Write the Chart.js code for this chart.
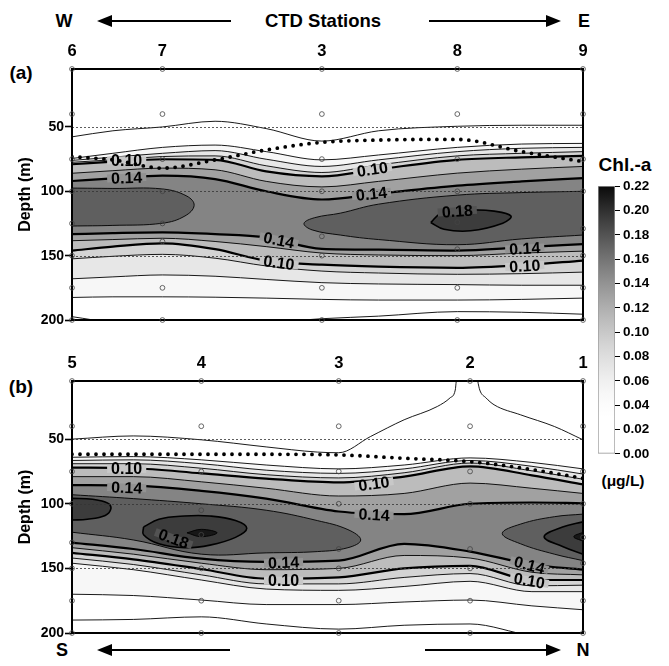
<!DOCTYPE html>
<html>
<head>
<meta charset="utf-8">
<script src="https://cdn.jsdelivr.net/npm/chart.js@4.4.1/dist/chart.umd.min.js"></script>
<style>
  body { margin: 0; width: 669px; height: 666px; position: relative; overflow: hidden; background: #fff;
         font-family: "Liberation Sans", Arial, Helvetica, sans-serif; font-weight: bold; color: #000; }
  canvas { position: absolute; display: block; }
  .txt { position: absolute; white-space: nowrap; transform: translate(-50%, -50%); font-weight: bold; }
  .shaft { position: absolute; height: 2px; background: #000; }
  .headL { position: absolute; width: 0; height: 0; border-top: 6px solid transparent; border-bottom: 6px solid transparent; border-right: 15px solid #000; }
  .headR { position: absolute; width: 0; height: 0; border-top: 6px solid transparent; border-bottom: 6px solid transparent; border-left: 15px solid #000; }
</style>
</head>
<body>

<div class="txt" style="left:64px;top:21px;font-size:18px">W</div>
<div class="headL" style="left:97px;top:15px"></div>
<div class="shaft" style="left:108px;top:20px;width:123px"></div>
<div class="txt" style="left:323px;top:21px;font-size:18.5px">CTD Stations</div>
<div class="shaft" style="left:429px;top:20px;width:120px"></div>
<div class="headR" style="left:546px;top:15px"></div>
<div class="txt" style="left:584px;top:21px;font-size:18px">E</div>

<div class="txt" style="left:21px;top:73px;font-size:19px">(a)</div>
<div class="txt" style="left:21px;top:387px;font-size:19px">(b)</div>

<div class="txt" style="left:625px;top:165px;font-size:19px">Chl.-a</div>
<div class="txt" style="left:623px;top:481px;font-size:15.5px">(μg/L)</div>

<div class="txt" style="left:62px;top:650px;font-size:18px">S</div>
<div class="headL" style="left:97px;top:644px"></div>
<div class="shaft" style="left:108px;top:649px;width:122px"></div>
<div class="shaft" style="left:425px;top:649px;width:122px"></div>
<div class="headR" style="left:546px;top:644px"></div>
<div class="txt" style="left:583px;top:650px;font-size:18px">N</div>

<canvas id="chartA" width="600" height="290" style="left:0;top:40px"></canvas>
<canvas id="chartB" width="600" height="291" style="left:0;top:352px"></canvas>
<canvas id="colorbar" width="81" height="290" style="left:588px;top:175px"></canvas>

<script>
// ---- axes / ticks ----
const depthTicks = [50, 100, 150, 200];
const depthGrid = [50, 100, 150];
const barTicks = [0, 0.02, 0.04, 0.06, 0.08, 0.10, 0.12, 0.14, 0.16, 0.18, 0.20, 0.22];
const boldLevels = [0.10, 0.14, 0.18];

// ---- panel (a): W -> E ----
const stationsA = ['6', '7', '3', '8', '9'];
const stationXA = [0, 17.7, 48.9, 75.4, 100];
const samplesA = [
  [5, 40, 75, 100, 125, 150, 175, 200],
  [5, 40, 75, 100, 125, 139, 175, 200],
  [5, 40, 75, 100, 135, 150, 175, 200],
  [5, 40, 75, 100, 124, 145, 175, 200],
  [5, 40, 75, 100, 129, 150, 175, 200]
];
const gridA = [0, 8, 17.7, 28, 38, 48.9, 60, 75.4, 88, 100];
const mldA  = [73.1, 75.6, 82.0, 75.6, 67.9, 62.0, 60.2, 59.7, 69.2, 76.9];
// contour depths (m) above the chl-a maximum
const aUp02 = [57.7, 53, 50, 45.6, 51.3, 61, 53, 49.5, 48.7, 48.7];
const aUp04 = [74.5, 70.5, 65.9, 64.1, 69.2, 75.6, 71.8, 65.9, 63.3, 62.8];
const aUp06 = [76, 73.5, 70.5, 68.4, 75.1, 80.7, 75.6, 69.2, 66.6, 65.9];
const aUp08 = [77.5, 75.5, 73, 72.5, 80.2, 85.4, 79.5, 72.5, 70.5, 69.2];
const aUp10 = [79, 77, 75.1, 75.6, 84.6, 88.4, 82.8, 75.6, 73.6, 72.5];
const aUp12 = [86, 84, 82, 83.3, 92.3, 96.6, 92.3, 85.9, 82.8, 80.7];
const aUp14 = [92, 90, 87.9, 90.5, 100, 106.4, 101.8, 95.6, 92.3, 89.7];
// contour depths (m) below the maximum
const aLo14 = [133.3, 132.5, 132, 133.3, 135.9, 144.8, 145.4, 146.1, 143.6, 141];
const aLo12 = [138.4, 137.5, 136.5, 139, 143, 148, 149.5, 150, 148, 146.5];
const aLo10 = [146.1, 143, 140.5, 145, 154, 157, 158.6, 159.5, 157.5, 153.8];
const aLo08 = [152.5, 150.5, 149, 152, 158, 162, 163.5, 164.5, 164, 162.8];
const aLo06 = [168, 166.5, 165, 166, 168.5, 171, 172, 172.5, 173, 173];
const aLo04 = [182.5, 182, 182, 182.3, 183, 184, 184.5, 184.5, 184, 183];
const aLo02 = [197.4, 202, 204, 204, 202, 199, 197, 193.5, 194, 195.5];
// closed contours [x, depth]
const aWest16 = [[0, 97.5], [8, 97.8], [17.7, 98.2], [22.5, 103.8], [23.9, 111], [22.1, 119.2], [17.7, 124.8], [8, 126.5], [0, 127]];
const aEast16 = [[100, 100], [88, 101], [75.4, 103], [60, 110], [52.5, 117], [47.5, 120.5], [45.4, 125], [47, 130], [52.5, 134], [60, 137.5], [75.4, 141.5], [88, 137], [100, 134]];
const aEast18 = [[70.2, 124.3], [72.2, 117.2], [78, 114.6], [82.6, 115.4], [85.9, 119.2], [84.3, 124.8], [78, 130.7], [72.8, 129.5], [70.2, 124.3]];
const aLabels = [
  { t: '0.10', x: 10.7, d: 76, a: 0 }, { t: '0.14', x: 10.7, d: 89.5, a: -2 },
  { t: '0.14', x: 40.5, d: 138, a: 12 }, { t: '0.10', x: 40.5, d: 155.5, a: 8 },
  { t: '0.10', x: 58.8, d: 83, a: -8 }, { t: '0.14', x: 58.6, d: 102, a: -6 },
  { t: '0.18', x: 75.4, d: 115.5, a: -4 },
  { t: '0.14', x: 88.6, d: 144.5, a: -3 }, { t: '0.10', x: 88.6, d: 158, a: -3 }
];

// ---- panel (b): S -> N ----
const stationsB = ['5', '4', '3', '2', '1'];
const stationXB = [0, 25.3, 52.2, 77.9, 100];
const samplesB = [
  [5, 40, 75, 100, 130, 150, 175, 200],
  [5, 40, 75, 105, 124, 150, 175, 200],
  [5, 40, 75, 100, 135, 150, 175, 200],
  [5, 40, 75, 100, 135, 150, 175, 200],
  [5, 40, 75, 100, 126, 146, 175, 200]
];
const gridB = [0, 12, 25.3, 38, 52.2, 65, 77.9, 90, 100];
const mldB  = [61.7, 61.7, 61.7, 61.7, 62.2, 64.8, 67.4, 73.5, 80.3];
const bUp02 = [[0, 50], [12, 47.5], [25.3, 50.5], [38, 56], [48, 60], [52.2, 60.5], [58.4, 48], [65, 35], [71.5, 24.7],
               [74, 18], [75, 12], [75.2, 5], [75.4, 0], [79.2, 0], [79.4, 5], [79.8, 12], [81, 18], [82.6, 23.4],
               [87.8, 31.2], [94.4, 40.2], [100, 50.5]];
const bUp04 = [64, 63.5, 66, 70, 73, 70, 64.5, 68, 73];
const bUp06 = [66.5, 66, 69, 74, 76.5, 73, 66.5, 71, 77];
const bUp08 = [69, 69, 72.5, 77.5, 80, 76, 68.5, 74.5, 81];
const bUp10 = [72, 72.5, 76.5, 80.5, 83.5, 79, 71, 78, 85];
const bUp12 = [79, 79, 83, 88, 94, 92, 84, 88, 92];
const bUp14 = [85.5, 86, 90, 96, 106, 108, 100, 99, 99.6];
const bLo14 = [130, 135, 142.5, 145, 144, 131, 137, 147, 151];
const bLo12 = [134, 139, 146, 151, 150, 140, 142, 153, 155];
const bLo10 = [138, 143, 150.5, 158, 157, 150, 148, 159, 159];
const bLo08 = [142, 147, 155, 162, 162, 157, 154, 163.5, 163];
const bLo06 = [146, 151, 159, 166, 167, 164, 160, 168, 168];
const bLo04 = [170, 171, 174.5, 178, 178, 176, 174.5, 179, 182];
const bLo02 = [190, 189.5, 187.5, 193, 197, 194, 193, 202, 204];
const bWest16 = [[0, 93], [12, 96], [25.3, 100], [38, 105], [48, 113], [54, 120], [56.5, 128], [54, 134], [48, 137], [38, 138], [25.3, 139], [12, 128], [0, 122]];
const bWest18 = [[0, 95.8], [4, 96.5], [7, 99.5], [7.6, 104], [6.5, 109], [3, 112], [0, 112.6]];
const bMid18  = [[14, 118], [17, 112], [22, 109.5], [27, 109.5], [32, 113], [34.2, 119], [32, 126], [27, 132], [22, 134], [17, 131], [14, 124], [14, 118]];
const bMid20  = [[22.5, 122.5], [25.3, 119.8], [28.4, 122.5], [25.3, 125.5], [22.5, 122.5]];
const bEast16 = [[100, 108], [94.4, 110], [87.8, 115.7], [84.2, 123], [87.8, 131], [94.4, 139], [100, 144]];
const bEast18 = [[100, 114], [96, 118], [92.4, 125.5], [96, 133], [100, 139]];
const bEast20 = [[100, 122], [98.2, 125.5], [100, 129]];
const bLabels = [
  { t: '0.10', x: 10.7, d: 73, a: 0 }, { t: '0.14', x: 10.7, d: 87.5, a: 2 },
  { t: '0.18', x: 19.9, d: 127, a: 20 },
  { t: '0.14', x: 41.4, d: 145.5, a: -2 }, { t: '0.10', x: 41.4, d: 159.5, a: 0 },
  { t: '0.10', x: 59.1, d: 84.5, a: -8 }, { t: '0.14', x: 59.1, d: 108.5, a: 3 },
  { t: '0.14', x: 89.5, d: 147.5, a: 15 }, { t: '0.10', x: 89.5, d: 159.5, a: 10 }
];

Chart.defaults.font.family = '"Liberation Sans", Arial, Helvetica, sans-serif';
Chart.defaults.color = '#000';

// grey level for a chl-a value: white up to ~0.03, black at 0.22
function shade(v) {
  const t = Math.max(0, Math.min(1, (v - 0.03) / 0.19));
  const g = Math.round(255 - 245 * Math.pow(t, 1.5));
  return 'rgb(' + g + ',' + g + ',' + g + ')';
}
function xy(xs, ys) { return xs.map((x, i) => ({ x: x, y: ys[i] })); }
function pairs(list) { return list.map(p => ({ x: p[0], y: p[1] })); }
function isBold(level) { return boldLevels.some(b => Math.abs(b - level) < 1e-6); }

// open contour, filled from the line down to 200 m
function band(data, level, side) {
  return {
    data: data,
    borderColor: '#000',
    borderWidth: isBold(level) ? 2.2 : 0.9,
    pointRadius: 0,
    cubicInterpolationMode: 'monotone',
    fill: { value: 200 },
    backgroundColor: shade(level + side * 0.01)
  };
}
// closed contour
function patch(list, level) {
  return {
    data: pairs(list),
    borderColor: '#000',
    borderWidth: isBold(level) ? 1.6 : 0.9,
    pointRadius: 0,
    tension: 0.4,
    fill: 'shape',
    backgroundColor: shade(level + 0.013)
  };
}

const overlay = {
  id: 'overlay',
  beforeDatasetDraw(chart, args, opts) {
    const ds = chart.data.datasets[args.index];
    const { ctx, chartArea: a, scales } = chart;
    if (ds.isMld) {
      ctx.save();
      ctx.font = 'bold 16px "Liberation Sans", Arial, sans-serif';
      ctx.textAlign = 'center';
      ctx.textBaseline = 'middle';
      opts.labels.forEach(l => {
        const x = scales.x.getPixelForValue(l.x);
        const y = scales.y.getPixelForValue(l.d);
        ctx.save();
        ctx.translate(x, y);
        ctx.rotate(l.a * Math.PI / 180);
        const w = ctx.measureText(l.t).width;
        ctx.fillStyle = shade(parseFloat(l.t));
        ctx.fillRect(-w / 2 - 4, -4, w + 8, 8);
        ctx.fillStyle = '#000';
        ctx.fillText(l.t, 0, 1);
        ctx.restore();
      });
      ctx.restore();
    }
    if (ds.isStations) {
      ctx.save();
      ctx.strokeStyle = '#333';
      ctx.lineWidth = 0.8;
      ctx.setLineDash([2, 2]);
      depthGrid.forEach(d => {
        const y = Math.round(scales.y.getPixelForValue(d)) + 0.5;
        ctx.beginPath();
        ctx.moveTo(a.left, y);
        ctx.lineTo(a.right, y);
        ctx.stroke();
      });
      ctx.setLineDash([]);
      ctx.lineWidth = 2;
      ctx.strokeStyle = '#000';
      ctx.strokeRect(a.left, a.top, a.right - a.left, a.bottom - a.top);
      ctx.restore();
    }
  }
};

function makePanel(id, p) {
  const list = [];
  p.upper.forEach(u => list.push(band(u[1], u[0], 1)));
  p.lower.forEach(u => list.push(band(u[1], u[0], -1)));
  p.patches.forEach(u => list.push(patch(u[1], u[0])));
  list.push({
    isMld: true,
    data: xy(p.grid, p.mld),
    borderColor: '#000',
    borderWidth: 3.8,
    borderDash: [0, 8],
    borderCapStyle: 'round',
    pointRadius: 0,
    cubicInterpolationMode: 'monotone',
    fill: false
  });
  const st = [];
  p.stationX.forEach((x, i) => p.samples[i].forEach(d => st.push({ x: x, y: d })));
  list.push({
    isStations: true,
    data: st,
    showLine: false,
    pointRadius: 2.4,
    pointBorderWidth: 0.8,
    pointBorderColor: '#444',
    pointBackgroundColor: 'rgba(0,0,0,0)',
    clip: false,
    fill: false
  });
  list.forEach((d, i) => { d.order = list.length - i; });

  return new Chart(document.getElementById(id), {
    type: 'line',
    data: { datasets: list },
    options: {
      responsive: false,
      animation: false,
      events: [],
      layout: { padding: { left: 0, right: 17, top: 0, bottom: 10 } },
      scales: {
        x: {
          type: 'linear', position: 'top', min: 0, max: 100,
          afterBuildTicks: s => { s.ticks = p.stationX.map(v => ({ value: v })); },
          afterFit: s => { s.height = 29; },
          ticks: { callback: (v, i) => p.names[i], font: { size: 16.5, weight: 'bold' }, color: '#000', padding: 8, autoSkip: false, maxRotation: 0 },
          grid: { display: false, drawTicks: false },
          border: { display: false }
        },
        y: {
          type: 'linear', reverse: true, min: 5, max: 200,
          afterBuildTicks: s => { s.ticks = depthTicks.map(v => ({ value: v })); },
          afterFit: s => { s.width = 72; },
          ticks: { font: { size: 14, weight: 'bold' }, color: '#000', padding: 1 },
          grid: { drawOnChartArea: false, drawTicks: true, tickLength: 7, tickColor: '#000', tickWidth: 1.6 },
          border: { display: false },
          title: { display: true, text: 'Depth (m)', font: { size: 16, weight: 'bold' }, color: '#000', padding: { top: 16, bottom: 0 } }
        }
      },
      plugins: { legend: { display: false }, tooltip: { enabled: false }, overlay: { labels: p.labels } }
    },
    plugins: [overlay]
  });
}

makePanel('chartA', {
  names: stationsA, stationX: stationXA, samples: samplesA, grid: gridA, mld: mldA, labels: aLabels,
  upper: [[0.02, xy(gridA, aUp02)], [0.04, xy(gridA, aUp04)], [0.06, xy(gridA, aUp06)], [0.08, xy(gridA, aUp08)],
          [0.10, xy(gridA, aUp10)], [0.12, xy(gridA, aUp12)], [0.14, xy(gridA, aUp14)]],
  lower: [[0.14, xy(gridA, aLo14)], [0.12, xy(gridA, aLo12)], [0.10, xy(gridA, aLo10)], [0.08, xy(gridA, aLo08)],
          [0.06, xy(gridA, aLo06)], [0.04, xy(gridA, aLo04)], [0.02, xy(gridA, aLo02)]],
  patches: [[0.16, aWest16], [0.16, aEast16], [0.18, aEast18]]
});

makePanel('chartB', {
  names: stationsB, stationX: stationXB, samples: samplesB, grid: gridB, mld: mldB, labels: bLabels,
  upper: [[0.02, pairs(bUp02)], [0.04, xy(gridB, bUp04)], [0.06, xy(gridB, bUp06)], [0.08, xy(gridB, bUp08)],
          [0.10, xy(gridB, bUp10)], [0.12, xy(gridB, bUp12)], [0.14, xy(gridB, bUp14)]],
  lower: [[0.14, xy(gridB, bLo14)], [0.12, xy(gridB, bLo12)], [0.10, xy(gridB, bLo10)], [0.08, xy(gridB, bLo08)],
          [0.06, xy(gridB, bLo06)], [0.04, xy(gridB, bLo04)], [0.02, xy(gridB, bLo02)]],
  patches: [[0.16, bWest16], [0.16, bEast16], [0.18, bWest18], [0.18, bMid18], [0.18, bEast18], [0.20, bMid20], [0.20, bEast20]]
});

// colour scale
new Chart(document.getElementById('colorbar'), {
  type: 'bar',
  data: {
    labels: ['Chl.-a'],
    datasets: [{
      data: [[0, 0.22]],
      backgroundColor: c => {
        const ch = c.chart;
        if (!ch.chartArea) return '#fff';
        const y = ch.scales.y;
        const g = ch.ctx.createLinearGradient(0, y.getPixelForValue(0), 0, y.getPixelForValue(0.22));
        for (let i = 0; i <= 22; i++) g.addColorStop(i / 22, shade(i / 100));
        return g;
      },
      borderColor: '#999',
      borderWidth: 1,
      borderSkipped: false,
      barPercentage: 1,
      categoryPercentage: 1
    }]
  },
  options: {
    responsive: false,
    animation: false,
    events: [],
    layout: { padding: { left: 10, right: 0, top: 10, bottom: 11 } },
    scales: {
      x: { display: false },
      y: {
        position: 'right', min: 0, max: 0.22,
        afterBuildTicks: s => { s.ticks = barTicks.map(v => ({ value: v })); },
        afterFit: s => { s.width = 54; },
        ticks: { callback: v => v.toFixed(2), font: { size: 13.5, weight: 'bold' }, color: '#000', padding: 3 },
        grid: { drawOnChartArea: false, tickLength: 5, tickColor: '#000', tickWidth: 1 },
        border: { display: false }
      }
    },
    plugins: { legend: { display: false }, tooltip: { enabled: false } }
  }
});
</script>
</body>
</html>
